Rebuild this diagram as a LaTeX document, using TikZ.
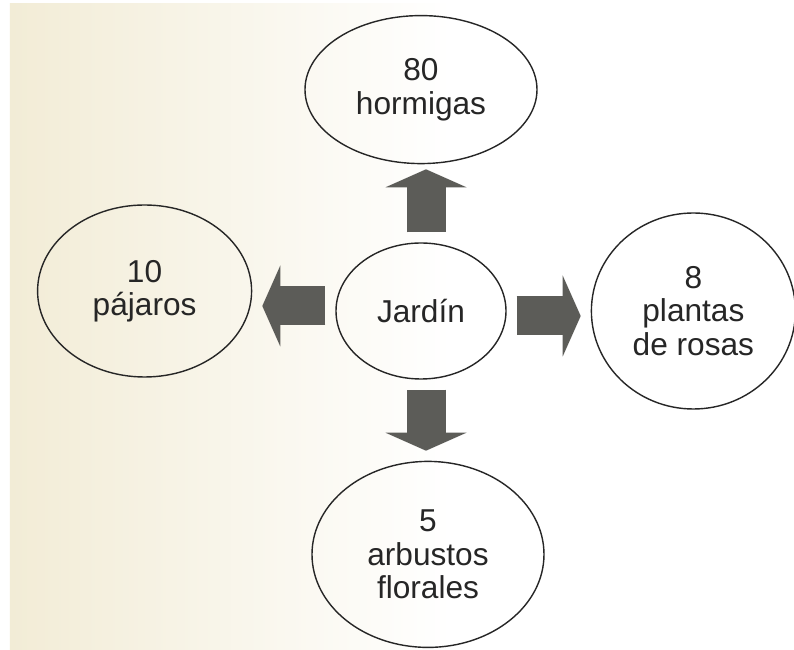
\documentclass[tikz,border=0pt]{standalone}
\usepackage{fontspec}
\setmainfont{Liberation Sans}
\usetikzlibrary{positioning, shapes.geometric, arrows.meta}
\definecolor{paper}{RGB}{242,236,214}
\definecolor{arrowgray}{RGB}{92,92,88}

\begin{document}
\begin{tikzpicture}[
        node distance=1.6cm,
        bubble/.style={
            ellipse, draw=black!85, line width=0.8pt, inner sep=0pt,
            align=center, text=black!85,
            font=\fontsize{18}{19}\selectfont
        },
        blockarrow/.style={
            -{Triangle[length=0.36cm 0 0, width=1.62cm 0 0, line width=0pt 0 0]},
            line width=0.78cm, draw=arrowgray,
            shorten <=0.2cm, shorten >=0.2cm
        }
    ]

    % PAGE BACKGROUND
    \useasboundingbox (-8.42,-6.78) rectangle (7.46,6.22);
    \fill[white] (-8.42,-6.78) rectangle (7.46,6.22);
    \shade[left color=paper, right color=white] (-8.22,-6.78) rectangle (0.6,6.14);

    % CENTRE
    \node[bubble, minimum width=3.4cm, minimum height=2.72cm] (jardin) {Jardín};

    % SURROUNDING BUBBLES
    \node[bubble, minimum width=4.64cm, minimum height=2.96cm,
          above=1.56cm of jardin] (hormigas) {80\\hormigas};
    \node[bubble, minimum width=4.28cm, minimum height=3.44cm,
          left=1.66cm of jardin, yshift=0.4cm] (pajaros) {10\\pájaros};
    \node[bubble, minimum width=4.08cm, minimum height=3.92cm,
          right=1.68cm of jardin] (rosas) {8\\plantas\\de rosas};
    \node[bubble, minimum width=4.64cm, minimum height=3.72cm,
          below=1.62cm of jardin, xshift=0.14cm] (arbustos) {5\\arbustos\\florales};

    % ARROWS
    \draw[blockarrow, shorten >=0.1cm] ([xshift=0.1cm]jardin.north) -- ([xshift=0.1cm]jardin.north |- hormigas.south);
    \draw[blockarrow] ([yshift=0.1cm]jardin.west) -- ([yshift=0.1cm]jardin.west -| pajaros.east);
    \draw[blockarrow] ([yshift=-0.1cm]jardin.east) -- ([yshift=-0.1cm]jardin.east -| rosas.west);
    \draw[blockarrow] ([xshift=0.1cm]jardin.south) -- ([xshift=0.1cm]jardin.south |- arbustos.north);

\end{tikzpicture}
\end{document}
